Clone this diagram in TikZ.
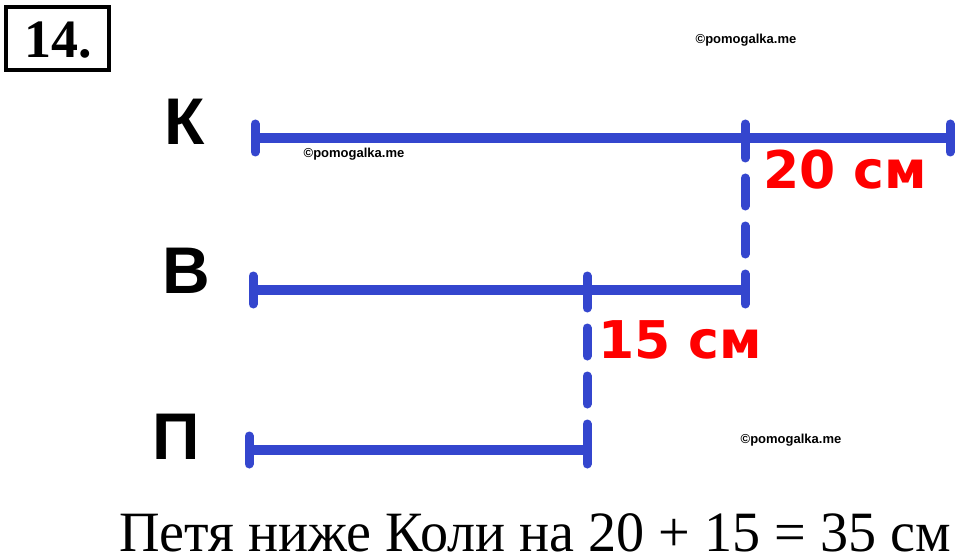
\documentclass[tikz,border=0pt]{standalone}
\usepackage{fontspec}
\setmainfont{Liberation Serif}
\newfontfamily\lsans{Liberation Sans}
\newfontfamily\dvsans{DejaVu Sans}
\definecolor{segblue}{RGB}{52,70,206}
\definecolor{lblred}{RGB}{255,0,0}
\begin{document}
\begin{tikzpicture}[x=1pt,y=-1pt,
  seg/.style={draw=segblue,line width=10pt},
  tickmark/.style={draw=segblue,line width=9pt,line cap=round},
  dashlink/.style={draw=segblue,line width=9pt,line cap=round,dash pattern=on 28pt off 20pt},
  letter/.style={anchor=base,inner sep=0pt,font=\lsans\bfseries\fontsize{66}{70}\selectfont},
  redlbl/.style={anchor=base west,inner sep=0pt,text=lblred,font=\dvsans\bfseries\fontsize{52}{56}\selectfont},
  wmark/.style={inner sep=0pt,font=\lsans\bfseries\fontsize{13}{15}\selectfont}]
\useasboundingbox (0,0) rectangle (960,556);
\fill[white] (0,0) rectangle (960,556);
% title box
\draw[line width=4pt] (6,7) rectangle (109,70);
\node[anchor=base,inner sep=0pt,font=\bfseries\fontsize{54}{58}\selectfont] (num) at (58,58) {14.};
% row letters
\node[letter] (lk) at (185,145) {К};
\node[letter] (lv) at (186,293) {В};
\node[letter] (lp) at (176,459) {П};
% coordinates
\coordinate (kA) at (255,138);
\coordinate (kM) at (745,138);
\coordinate (kB) at (950,138);
\coordinate (bA) at (253,290);
\coordinate (bM) at (587,290);
\coordinate (bB) at (745,290);
\coordinate (pA) at (249,450);
\coordinate (pB) at (587,450);
% dashed links
\draw[dashlink,dash phase=8pt] (kM) -- (bB);
\draw[dashlink,dash phase=10pt] (bM) -- (pB);
% segments
\draw[seg] (kA) -- (kB);
\draw[seg] (bA) -- (bB);
\draw[seg] (pA) -- (pB);
% ticks
\foreach \c in {kA,kM,kB,bA,bM,bB,pA,pB}
  \draw[tickmark] ([yshift=14pt]\c) -- ([yshift=-14pt]\c);
% red labels
\node[redlbl] (l20) at (763,188) {20 см};
\node[redlbl] (l15) at (598,358) {15 см};
% watermarks
\node[wmark] (w1) at (746,40) {©pomogalka.me};
\node[wmark] (w2) at (354,154) {©pomogalka.me};
\node[wmark] (w3) at (791,440) {©pomogalka.me};
% bottom sentence
\node[anchor=base west,inner sep=0pt,font=\fontsize{57}{60}\selectfont] (ans) at (119,551)
  {\resizebox{832pt}{\height}{Петя ниже Коли на 20 + 15 = 35 см}};
\end{tikzpicture}
\end{document}
